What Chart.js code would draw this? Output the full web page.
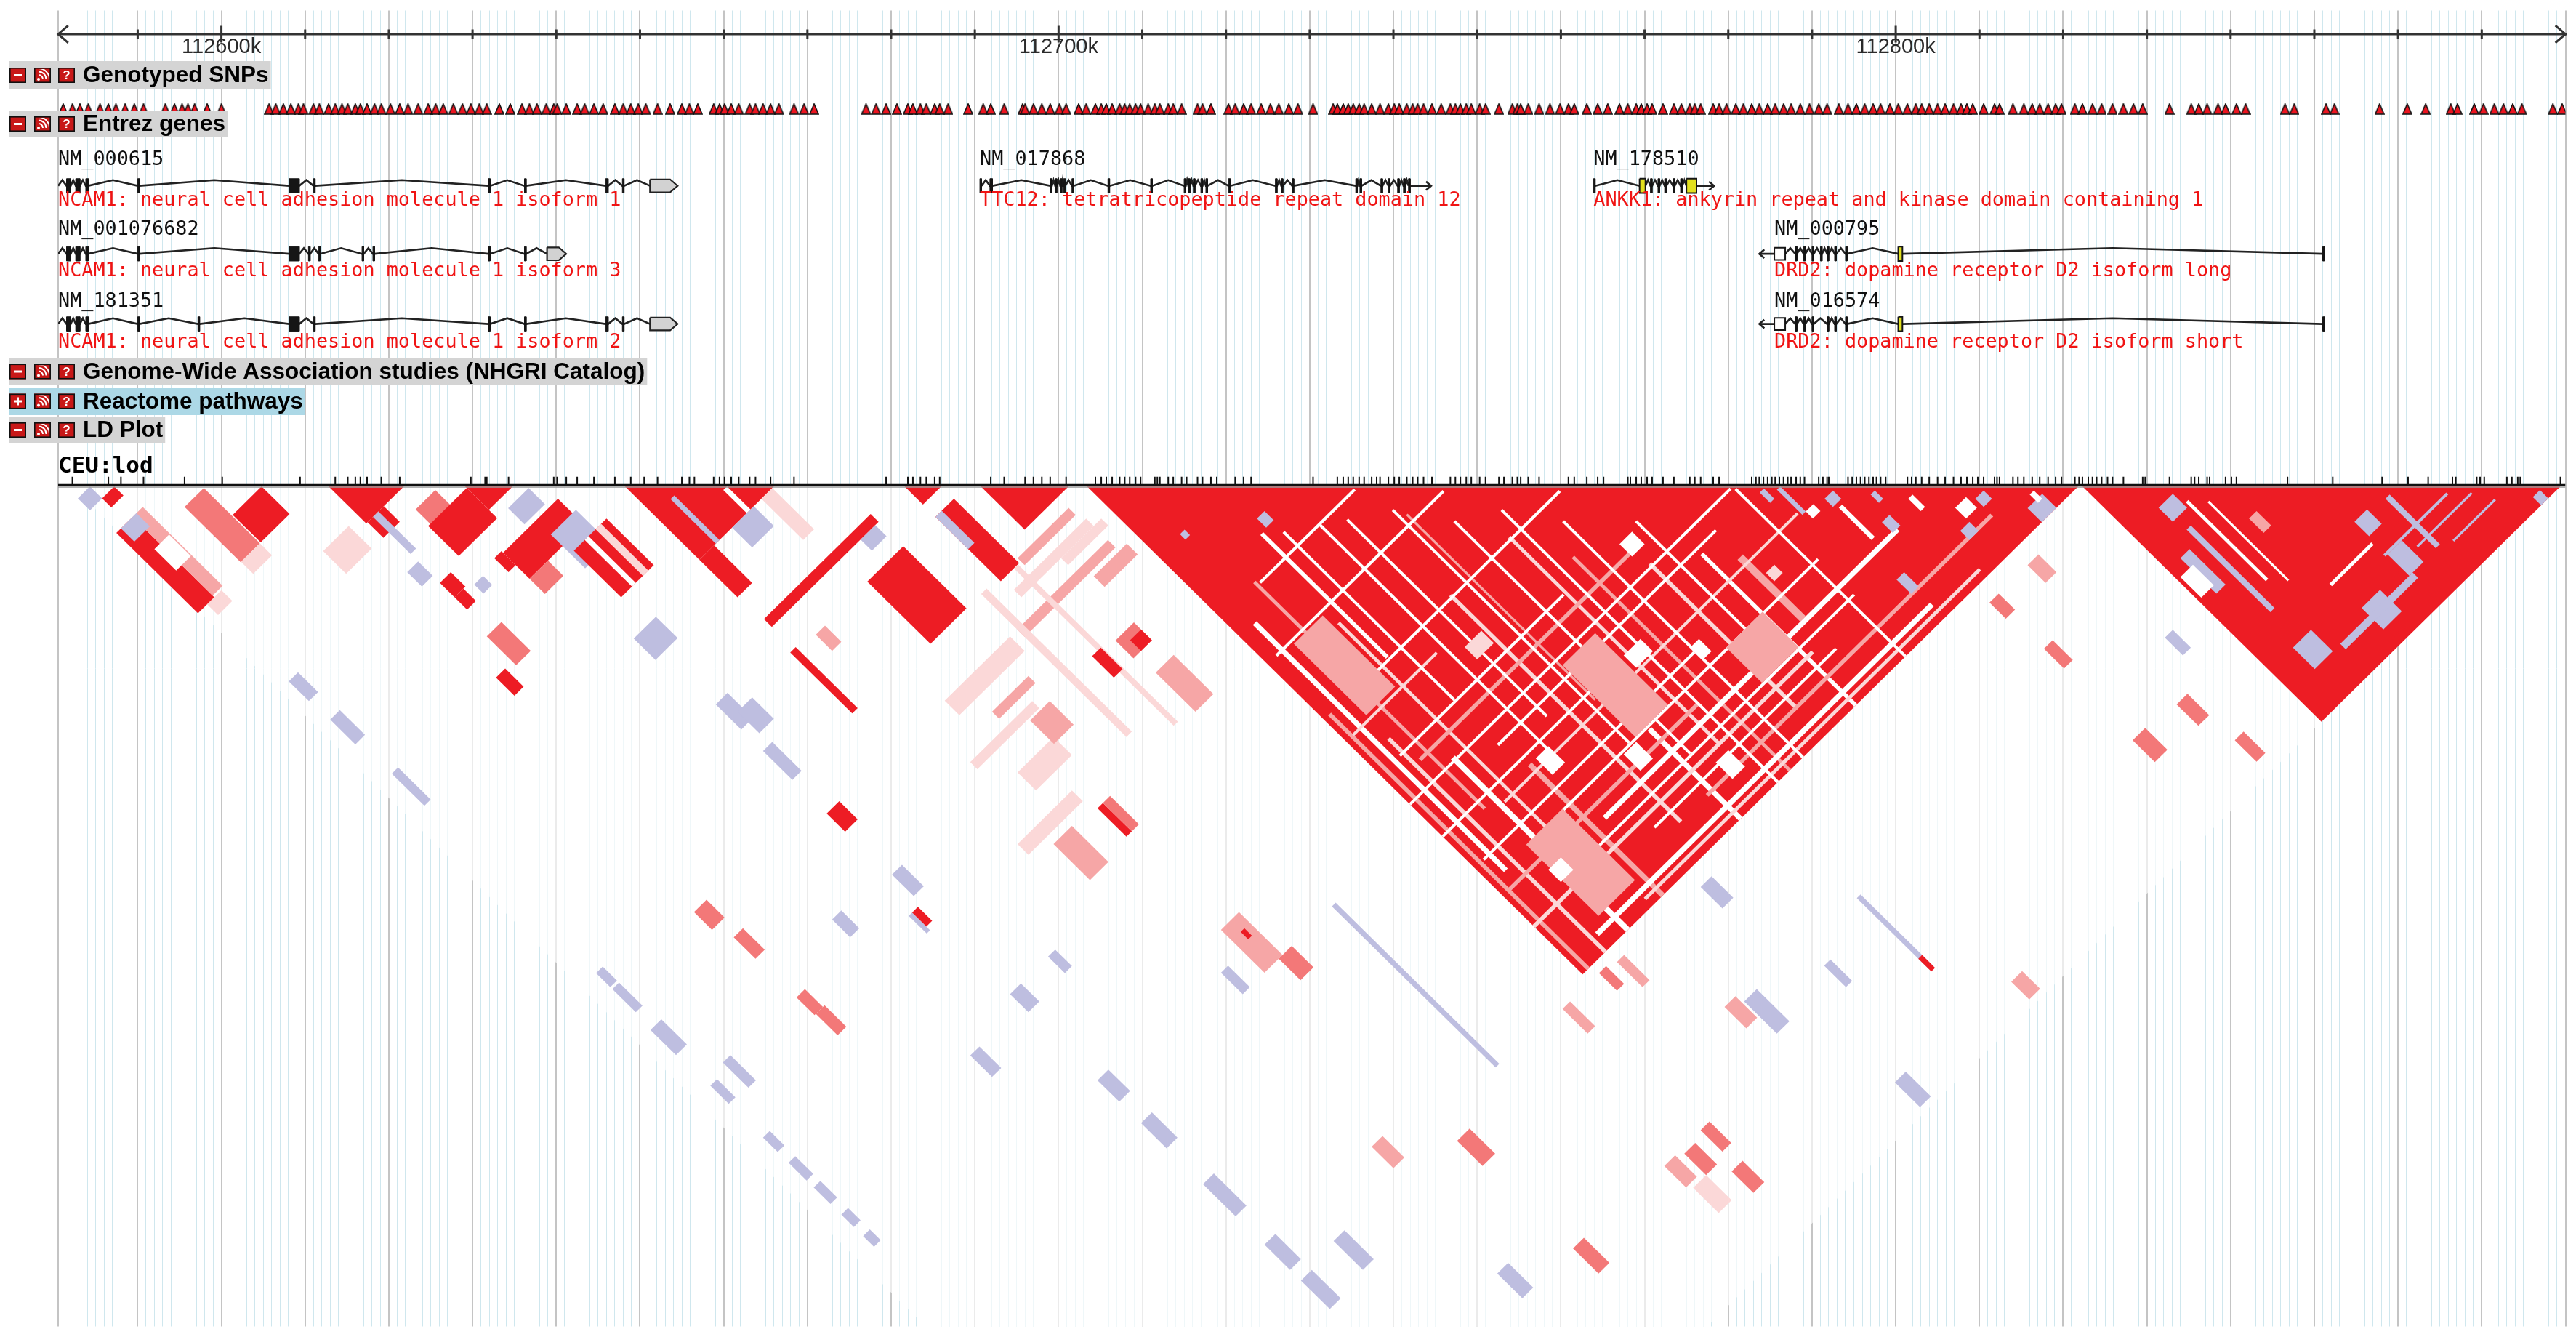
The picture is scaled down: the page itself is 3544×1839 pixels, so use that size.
<!DOCTYPE html>
<html><head><meta charset="utf-8">
<script src="https://cdn.jsdelivr.net/npm/chart.js@4/dist/chart.umd.min.js"></script>
<style>html,body{margin:0;padding:0;background:#fff;}canvas{display:block;}</style>
</head><body>
<canvas id="c" width="3544" height="1839" style="width:3544px;height:1839px"></canvas>
<script>
// ---------------- DATA ----------------
const viewStart = 112580.5;
const viewEnd = 112880.0;
const majorTickKb = [112600, 112700, 112800];
const minorTickKb = [112590,112610,112620,112630,112640,112650,112660,112670,112680,112690,112710,112720,112730,112740,112750,112760,112770,112780,112790,112810,112820,112830,112840,112850,112860,112870];

const genotypedSnps = [112581.1,112582.2,112583.1,112584.1,112585.5,112586.5,112587.4,112588.5,112589.6,112590.7,112593.3,112594.4,112595.3,112596.0,112596.8,112598.3,112600.0,112605.7,112606.5,112607.4,112608.3,112609.2,112609.8,112611.0,112611.7,112612.8,112613.6,112614.4,112615.1,112616.0,112616.6,112617.4,112618.3,112619.1,112620.2,112621.3,112622.3,112623.5,112624.7,112625.6,112626.5,112627.7,112628.8,112629.8,112630.8,112631.7,112633.2,112634.5,112635.9,112636.8,112637.7,112638.8,112639.7,112640.1,112641.2,112642.5,112643.4,112644.5,112645.6,112647.0,112648.0,112648.9,112649.8,112650.7,112652.1,112653.6,112655.0,112655.9,112656.9,112658.8,112659.5,112660.1,112660.9,112661.8,112663.1,112663.8,112664.7,112665.6,112666.6,112668.4,112669.6,112670.8,112677.0,112678.2,112679.4,112680.7,112682.0,112682.6,112683.5,112684.2,112685.2,112685.8,112686.8,112689.2,112691.0,112691.9,112693.5,112695.7,112696.0,112697.0,112698.0,112699.0,112700.1,112700.9,112702.4,112703.3,112704.4,112705.1,112705.7,112706.4,112707.3,112707.9,112708.5,112709.2,112709.8,112710.7,112711.5,112712.1,112713.1,112713.7,112714.7,112716.6,112717.2,112718.2,112720.3,112721.1,112722.1,112723.0,112724.2,112725.3,112726.3,112727.5,112728.6,112730.4,112732.8,112733.3,112734.0,112734.6,112735.2,112735.9,112736.5,112737.4,112738.4,112739.4,112740.1,112740.7,112741.6,112742.3,112742.9,112743.6,112744.6,112745.7,112746.8,112747.4,112748.0,112748.7,112749.3,112750.3,112751.0,112752.6,112754.2,112754.8,112755.2,112756.1,112757.4,112758.7,112759.9,112760.9,112761.6,112763.1,112764.4,112765.6,112767.0,112768.0,112769.0,112769.6,112770.3,112770.9,112772.2,112773.5,112774.4,112775.4,112776.0,112776.7,112778.2,112778.9,112779.8,112780.9,112781.8,112782.8,112783.7,112784.7,112785.6,112786.6,112787.5,112788.6,112789.7,112790.8,112791.8,112793.2,112794.3,112795.3,112796.3,112797.3,112798.2,112799.3,112800.3,112801.4,112802.4,112803.1,112804.0,112805.0,112805.9,112806.9,112807.8,112808.5,112809.2,112810.5,112811.8,112812.4,112814.0,112815.3,112816.3,112817.2,112818.2,112819.1,112819.8,112821.4,112822.3,112823.5,112824.6,112825.9,112827.2,112828.4,112829.5,112832.7,112835.3,112836.2,112837.2,112838.5,112839.4,112840.7,112841.8,112846.5,112847.6,112851.4,112852.4,112857.8,112861.1,112863.3,112866.3,112867.1,112869.1,112870.2,112871.5,112872.6,112873.7,112874.8,112878.5,112879.6];

const ldSnps = [112582.2,112586.5,112588.0,112590.7,112595.6,112600.1,112609.4,112613.6,112615.1,112616.0,112616.6,112617.4,112619.1,112621.3,112629.8,112631.5,112631.7,112634.3,112639.7,112640.1,112641.2,112642.5,112644.5,112647.0,112648.9,112650.5,112652.1,112655.0,112655.9,112656.5,112658.8,112659.5,112660.1,112660.9,112661.8,112663.1,112663.8,112665.6,112668.4,112679.4,112682.0,112682.6,112683.5,112684.2,112685.2,112685.8,112691.9,112693.5,112696.0,112697.0,112698.0,112699.0,112700.9,112704.4,112705.1,112705.7,112706.4,112707.3,112707.9,112708.5,112709.2,112709.8,112711.5,112711.8,112712.1,112713.1,112713.7,112714.7,112715.3,112716.6,112717.2,112718.2,112718.9,112721.1,112722.1,112723.0,112730.4,112733.3,112734.0,112734.6,112735.2,112735.9,112736.5,112737.4,112738.0,112738.4,112739.4,112740.1,112740.7,112741.6,112742.3,112742.9,112743.6,112744.6,112746.8,112747.4,112748.0,112748.7,112749.3,112750.3,112751.0,112752.6,112753.2,112754.2,112754.8,112755.2,112756.1,112757.4,112760.9,112761.6,112763.1,112764.4,112765.1,112768.0,112768.3,112769.0,112769.6,112770.3,112770.9,112772.2,112773.5,112775.4,112776.0,112776.7,112778.2,112778.9,112782.8,112783.3,112783.7,112784.2,112784.7,112785.2,112785.6,112786.1,112786.6,112787.1,112787.5,112788.1,112788.6,112789.1,112790.8,112791.3,112791.8,112792.0,112794.3,112794.8,112795.3,112795.8,112796.3,112796.8,112797.3,112797.7,112798.2,112798.8,112801.4,112801.9,112802.4,112803.1,112804.0,112805.0,112805.9,112806.9,112807.8,112808.5,112809.2,112809.8,112810.5,112811.8,112812.1,112812.4,112814.0,112814.6,112815.3,112816.3,112817.2,112818.2,112819.1,112819.8,112821.4,112821.9,112822.3,112823.0,112823.5,112824.0,112824.6,112825.3,112825.9,112827.2,112829.5,112829.8,112832.7,112835.3,112835.7,112836.2,112837.2,112837.5,112839.4,112840.1,112840.7,112846.8,112852.2,112858.1,112861.2,112863.6,112866.5,112866.9,112869.4,112869.8,112870.3,112873.0,112873.6,112874.3,112874.6,112879.4];

// LD blocks: all pairs inside [start, end] kb
const ldBlocks = [
 [112703.4,112821.8,'R'],[112822.3,112879.4,'R'],[112612.8,112621.8,'R'],[112629.1,112634.8,'R'],
 [112648.2,112666.0,'R'],[112690.7,112701.2,'R'],[112681.6,112686.0,'R']
];
// LD patches: pairs with first SNP in [a1,a2] and second SNP in [b1,b2] (kb)
const ldPatches = [
 [112581.4,112584.3,112584.3,112587.2,'B'],[112584.3,112587.2,112587.2,112589.4,'R'],
 [112581.8,112585.7,112593.1,112612.6,'R'],[112585.7,112588.1,112593.1,112612.2,'P2'],
 [112582.9,112586.6,112593.1,112596.3,'B'],[112584.4,112587.9,112599.6,112604.8,'W'],
 [112584.0,112587.4,112612.6,112615.2,'P3'],[112593.1,112597.7,112598.1,112611.5,'P1'],
 [112593.2,112597.7,112611.5,112614.4,'P3'],[112597.9,112604.8,112604.8,112611.5,'R'],
 [112604.3,112610.4,112620.0,112625.5,'P3'],[112613.1,112617.0,112621.8,112625.6,'R'],
 [112620.4,112625.1,112626.0,112630.7,'P1'],[112614.4,112615.7,112621.8,112630.8,'B'],
 [112619.9,112629.1,112629.5,112636.8,'R'],[112631.6,112636.5,112636.9,112640.8,'B'],
 [112625.6,112638.7,112641.7,112648.0,'R'],[112625.6,112630.0,112648.0,112651.7,'P1'],
 [112633.5,112639.5,112645.2,112653.4,'B'],[112634.3,112642.1,112649.9,112661.2,'R'],
 [112636.9,112637.8,112649.9,112661.2,'W'],[112639.5,112640.8,112649.9,112661.2,'P3'],
 [112652.1,112653.0,112655.2,112666.0,'B'],[112659.5,112660.4,112660.4,112666.0,'W'],
 [112648.2,112651.7,112666.0,112675.1,'R'],[112663.0,112665.6,112666.0,112676.0,'P3'],
 [112656.0,112661.2,112666.0,112670.8,'B'],[112611.8,112614.4,112632.6,112636.1,'B'],
 [112618.3,112620.4,112642.1,112644.3,'B'],[112623.9,112625.6,112641.3,112644.7,'R'],
 [112630.8,112636.1,112667.7,112672.9,'B'],[112648.7,112674.2,112680.9,112682.8,'R'],
 [112647.8,112649.1,112688.1,112702.9,'R'],[112669.9,112673.4,112682.8,112685.5,'B'],
 [112665.6,112674.2,112688.7,112703.8,'R'],[112681.6,112686.0,112689.0,112704.6,'R'],
 [112681.6,112683.1,112689.0,112696.8,'B'],[112584.4,112586.6,112631.7,112636.5,'B'],
 [112584.7,112587.0,112641.3,112647.3,'B'],[112585.5,112587.0,112655.2,112663.0,'B'],
 [112632.6,112635.4,112685.5,112691.6,'B'],[112634.3,112637.8,112689.0,112694.2,'B'],
 [112632.6,112634.8,112696.8,112703.8,'B'],[112632.6,112635.6,112712.0,112716.4,'R'],
 [112653.0,112655.2,112689.0,112692.9,'P2'],[112609.6,112611.8,112656.0,112660.4,'R'],
 [112614.4,112617.0,112637.8,112641.3,'R'],[112614.4,112616.5,112641.3,112644.3,'R'],
 [112613.5,112617.0,112649.9,112656.9,'P1'],
 [112585.7,112587.3,112703.8,112707.2,'B'],[112585.7,112587.3,112707.7,112713.3,'B'],
 [112585.3,112587.9,112717.2,112723.3,'B'],[112585.7,112587.3,112731.1,112735.5,'B'],
 [112585.7,112587.3,112743.7,112747.2,'B'],[112585.7,112587.3,112749.8,112754.1,'B'],
 [112585.7,112587.3,112755.8,112759.8,'B'],[112585.7,112587.3,112762.4,112765.4,'B'],
 [112585.7,112587.3,112767.6,112770.2,'B'],
 [112604.8,112607.8,112708.1,112712.4,'P1'],[112606.5,112608.7,112715.9,112721.1,'P1'],
 [112606.7,112608.7,112730.7,112735.0,'P1'],[112607.0,112609.1,112735.0,112740.2,'P1'],
 [112686.4,112698.6,112703.8,112705.5,'P2'],[112682.1,112699.4,112707.2,112709.0,'P3'],
 [112677.7,112699.4,112712.4,112714.2,'P2'],[112691.6,112701.2,112709.0,112710.7,'P3'],
 [112693.3,112701.2,112715.1,112717.7,'P2'],[112688.1,112692.5,112725.5,112729.8,'P1'],
 [112689.9,112692.5,112727.2,112729.8,'R'],[112660.4,112676.0,112712.4,112715.9,'P3'],
 [112664.7,112673.4,112719.4,112721.1,'P2'],[112656.0,112670.8,112722.9,112724.6,'P3'],
 [112677.7,112679.0,112703.8,112738.5,'P3'],[112684.7,112685.7,112704.6,112742.8,'P3'],
 [112683.4,112685.5,112724.6,112729.8,'R'],[112689.0,112693.3,112734.2,112743.7,'P2'],
 [112660.4,112669.0,112729.8,112734.2,'P3'],[112651.7,112664.7,112738.5,112741.1,'P3'],
 [112656.0,112660.4,112742.8,112751.5,'P2'],[112665.6,112666.9,112743.7,112750.6,'R'],
 [112666.9,112668.6,112743.7,112750.6,'P1'],[112668.2,112672.9,112725.0,112730.7,'P2'],
 [112633.0,112635.4,112727.2,112732.4,'B'],[112630.8,112632.2,112734.2,112737.6,'R'],
 [112630.0,112630.8,112734.2,112738.5,'B'],[112620.4,112622.6,112725.5,112729.8,'B'],
 [112590.0,112591.8,112729.8,112735.9,'B'],
 [112632.6,112635.2,112755.8,112760.2,'B'],[112632.6,112635.2,112776.7,112781.9,'B'],
 [112632.6,112635.2,112787.1,112793.2,'B'],[112632.6,112635.2,112801.9,112809.7,'B'],
 [112632.6,112635.2,112816.6,112822.7,'B'],[112632.6,112635.2,112825.3,112832.2,'B'],
 [112641.7,112643.4,112755.8,112759.8,'B'],[112641.3,112643.9,112824.4,112831.4,'B'],
 [112656.9,112659.5,112847.9,112853.9,'B'],[112681.7,112682.6,112783.6,112822.7,'B'],
 [112660.4,112662.1,112778.4,112783.6,'B'],[112665.6,112669.9,112773.2,112783.6,'P2'],
 [112667.7,112668.6,112775.8,112777.6,'R'],[112669.0,112672.1,112783.6,112788.8,'P1'],
 [112668.2,112671.2,112827.0,112833.1,'P1'],[112669.0,112671.6,112853.9,112860.0,'P1'],
 [112698.6,112700.7,112854.8,112860.0,'P1'],[112689.9,112692.5,112854.8,112860.0,'P2'],
 [112690.7,112693.8,112860.9,112867.0,'P3'],[112693.8,112696.4,112855.7,112860.9,'P1'],
 [112697.3,112699.9,112863.5,112868.7,'P1'],[112620.4,112622.6,112758.5,112763.7,'B'],
 [112657.3,112659.9,112817.5,112822.7,'P2'],
 // texture inside the large CEU block
 [112704.4,112705.1,112760.0,112821.8,'P2'],[112706.4,112707.3,112740.0,112800.0,'W'],
 [112708.5,112709.2,112770.0,112821.8,'P3'],[112711.5,112712.1,112735.0,112790.0,'P2'],
 [112713.7,112714.7,112780.0,112821.8,'W'],[112716.6,112717.2,112750.0,112815.0,'P3'],
 [112718.2,112718.9,112730.0,112760.0,'W'],[112722.1,112723.0,112790.0,112821.8,'P2'],
 [112733.3,112734.0,112760.0,112815.0,'P3'],[112738.0,112738.4,112745.0,112790.0,'P2'],
 [112740.7,112741.6,112800.0,112821.8,'W'],[112747.4,112748.0,112760.0,112810.0,'P3'],
 [112752.6,112753.2,112770.0,112821.8,'P2'],[112760.9,112761.6,112780.0,112815.0,'P3'],
 [112768.3,112769.0,112785.0,112821.8,'W'],[112772.2,112773.5,112790.0,112805.0,'P2'],
 [112705.0,112725.0,112765.1,112765.6,'P3'],[112710.0,112760.0,112776.0,112776.7,'P2'],
 [112703.4,112740.0,112788.1,112788.6,'W'],[112715.0,112785.0,112791.3,112791.8,'P3'],
 [112705.0,112750.0,112802.4,112803.1,'P2'],[112725.0,112795.0,112805.0,112805.9,'W'],
 [112703.4,112770.0,112809.8,112810.5,'P3'],[112740.0,112808.0,112814.6,112815.3,'P2'],
 [112710.0,112790.0,112818.2,112819.1,'W'],[112720.0,112800.0,112819.8,112820.4,'P3'],
 [112721.1,112721.6,112732.4,112773.2,'W'],[112726.3,112726.8,112735.9,112790.6,'W'],
 [112730.2,112730.7,112738.5,112786.2,'W'],[112736.8,112737.3,112742.8,112799.3,'W'],
 [112742.8,112743.3,112751.5,112807.9,'W'],[112749.8,112750.3,112755.8,112821.8,'W'],
 [112755.8,112756.3,112764.5,112821.8,'W'],[112764.5,112765.0,112773.2,112807.9,'W'],
 [112712.4,112735.0,112735.5,112736.0,'W'],[112705.5,112745.4,112746.3,112746.8,'W'],
 [112712.4,112759.3,112760.2,112760.7,'W'],[112708.1,112747.2,112773.2,112773.7,'W'],
 [112721.1,112773.2,112783.6,112784.1,'W'],[112705.5,112755.8,112795.8,112796.3,'W'],
 [112712.4,112781.9,112807.9,112808.4,'W'],[112721.1,112781.9,112799.3,112799.8,'W'],
 [112729.8,112773.2,112812.3,112812.8,'W'],
 [112703.4,112780.0,112780.3,112780.8,'W'],[112780.3,112780.8,112781.2,112821.8,'W'],
 [112709.0,112715.9,112747.2,112764.5,'P2'],[112738.5,112746.3,112781.9,112799.3,'P2'],
 [112712.4,112721.1,112799.3,112816.6,'P2'],[112760.2,112768.9,112799.3,112807.9,'P2'],
 [112724.0,112727.0,112790.0,112794.0,'W'],[112735.0,112738.0,112800.0,112804.0,'W'],
 [112745.0,112748.0,112812.0,112816.0,'W'],[112756.0,112758.0,112795.0,112798.0,'W'],
 [112712.0,112715.0,112805.0,112808.0,'W'],[112760.0,112763.0,112774.0,112777.0,'W'],
 [112774.0,112776.0,112795.0,112797.0,'P3'],[112729.0,112733.0,112768.0,112771.0,'P3'],
 [112747.0,112751.0,112788.0,112791.0,'W'],
 [112719.8,112721.6,112727.6,112729.8,'B'],[112708.7,112709.8,112720.3,112721.6,'B'],
 [112794.0,112795.8,112802.7,112805.3,'B'],[112788.8,112790.6,112811.4,112814.9,'B'],
 [112802.3,112804.5,112813.1,112815.3,'B'],[112813.1,112816.6,112818.4,112821.8,'B'],
 [112804.5,112807.1,112809.7,112812.3,'W'],[112785.4,112786.2,112786.2,112792.3,'B'],
 [112786.2,112788.0,112792.3,112794.0,'W'],[112790.6,112791.4,112795.8,112803.6,'W'],
 [112783.0,112784.0,112784.5,112787.0,'B'],[112796.0,112797.0,112798.0,112800.0,'B'],
 [112808.0,112810.0,112811.0,112813.0,'B'],[112800.0,112801.0,112803.0,112806.0,'W'],
 [112815.0,112816.0,112817.0,112819.0,'W'],[112790.0,112792.0,112793.0,112795.0,'B'],
 // between the large block and the right block
 [112806.2,112808.8,112825.3,112829.6,'P2'],[112797.1,112799.3,112825.3,112829.2,'P1'],
 [112798.0,112800.1,112837.4,112842.2,'P1'],[112797.5,112800.5,112859.1,112864.4,'P1'],
 [112807.1,112809.7,112860.0,112865.2,'P1'],[112809.7,112811.8,112871.3,112876.5,'P1'],
 [112813.8,112815.7,112850.5,112854.8,'B'],[112696.8,112698.6,112823.6,112829.6,'P2'],
 [112705.5,112707.2,112823.6,112827.9,'P1'],[112709.0,112710.7,112824.4,112830.5,'P2'],
 [112719.4,112722.4,112844.4,112852.2,'B'],[112745.4,112746.3,112845.3,112862.6,'B'],
 [112745.4,112746.3,112860.0,112863.1,'R'],[112733.3,112734.8,112849.6,112854.8,'B'],
 [112727.6,112730.2,112872.2,112878.2,'B'],[112753.7,112756.3,112873.9,112878.2,'P2'],
 [112716.4,112719.0,112842.7,112847.9,'P2'],[112728.1,112730.7,112825.3,112830.5,'B'],
 // right block details
 [112828.8,112832.2,112834.0,112837.4,'B'],[112825.3,112827.5,112842.7,112851.3,'B'],
 [112850.5,112853.5,112859.1,112862.6,'B'],[112850.5,112853.9,112867.0,112872.2,'B'],
 [112840.9,112845.3,112870.4,112875.6,'B'],[112827.9,112832.2,112867.0,112872.2,'B'],
 [112874.8,112876.5,112877.4,112879.4,'B'],[112832.7,112833.3,112836.6,112855.7,'W'],
 [112835.3,112835.7,112839.2,112858.3,'W'],[112838.3,112840.1,112846.1,112849.6,'P2'],
 [112834.0,112851.3,112872.2,112873.5,'B'],[112850.0,112865.0,112866.5,112867.0,'B'],
 [112855.0,112868.0,112869.4,112869.8,'B'],[112860.0,112870.0,112873.0,112873.4,'B'],
 [112840.0,112850.0,112863.6,112864.2,'W'],[112857.0,112858.0,112860.0,112872.0,'B'],
 [112823.0,112826.0,112845.0,112850.0,'W'],[112829.5,112830.5,112840.0,112860.0,'B']
];

// Genes (kb)
const ncam1Iso1Exons = [[112581.5,112582.0],[112582.6,112583.1],[112583.8,112584.1],[112590.0,112590.2],[112608.1,112609.3],[112611.0,112611.2],[112631.9,112632.1],[112636.2,112636.4],[112645.9,112646.2],[112647.9,112648.1]];
const ncam1Iso1Utr = [112651.2,112654.5];
const ncam1Iso3Exons = [[112581.5,112582.0],[112582.6,112583.1],[112583.8,112584.1],[112590.0,112590.2],[112608.1,112609.3],[112610.4,112610.6],[112611.6,112611.8],[112616.8,112617.0],[112618.1,112618.3],[112631.9,112632.1],[112636.2,112636.4]];
const ncam1Iso3Utr = [112638.9,112641.2];
const ncam1Iso2Exons = [[112581.5,112582.0],[112582.6,112583.1],[112583.8,112584.1],[112590.0,112590.2],[112597.2,112597.4],[112608.1,112609.3],[112611.0,112611.2],[112631.9,112632.1],[112636.2,112636.4],[112645.9,112646.2],[112647.9,112648.1]];
const ncam1Iso2Utr = [112651.2,112654.5];
const ttc12Exons = [[112690.6,112690.8],[112691.8,112692.1],[112699.0,112699.2],[112699.6,112699.8],[112700.2,112700.4],[112700.6,112700.8],[112701.6,112701.8],[112705.9,112706.1],[112711.0,112711.2],[112715.0,112715.2],[112715.5,112715.7],[112716.1,112716.3],[112717.0,112717.2],[112717.6,112717.8],[112720.3,112720.5],[112725.9,112726.1],[112726.6,112726.8],[112727.9,112728.1],[112735.5,112735.7],[112736.0,112736.2],[112738.5,112738.7],[112739.4,112739.6],[112740.5,112740.7],[112741.2,112741.4],[112741.8,112742.0]];
const ttc12ArrowTip = 112744.5;
const ankk1Exons = [[112763.9,112764.1],[112770.7,112770.9],[112771.6,112771.8],[112772.4,112772.6],[112773.4,112773.6],[112774.3,112774.5]];
const ankk1Coding = [[112769.4,112770.1],[112775.0,112776.2]];
const ankk1ArrowTip = 112778.3;
const drd2LongExons = [[112788.0,112788.2],[112789.0,112789.2],[112790.0,112790.2],[112791.0,112791.2],[112791.8,112792.0],[112792.7,112792.9],[112794.0,112794.2],[112851.0,112851.2]];
const drd2ShortExons = [[112788.0,112788.2],[112789.0,112789.2],[112790.0,112790.2],[112791.8,112792.0],[112792.7,112792.9],[112794.0,112794.2],[112851.0,112851.2]];
const drd2Coding = [[112800.3,112800.8]];
const drd2Utr = [112785.5,112786.8];
const drd2ArrowTip = 112783.7;

const geneNames = ['NM_000615','NM_017868','NM_178510','NM_001076682','NM_000795','NM_181351','NM_016574'];
const geneDescs = ['NCAM1: neural cell adhesion molecule 1 isoform 1','TTC12: tetratricopeptide repeat domain 12','ANKK1: ankyrin repeat and kinase domain containing 1','NCAM1: neural cell adhesion molecule 1 isoform 3','DRD2: dopamine receptor D2 isoform long','NCAM1: neural cell adhesion molecule 1 isoform 2','DRD2: dopamine receptor D2 isoform short'];
const trackTitles = ['Genotyped SNPs','Entrez genes','Genome-Wide Association studies (NHGRI Catalog)','Reactome pathways','LD Plot'];
const ldPopulationLabel = 'CEU:lod';

// ---------------- LAYOUT / STYLE ----------------
const W = 3544, H = 1839, PADL = 80, PADR = 14;
const L = {
  axisY: 33, snpY: 137.5, ldLineY: 663, ldTickY: 657, ldTop: 665, ldLabelY: 650,
  rows: [{name:227, gene:245, desc:283},{name:323, gene:340, desc:380},{name:422, gene:438, desc:478}],
  headers: [
    {top:84, bottom:123, bg:'#d4d4d4', icon:'minus'},
    {top:152, bottom:189, bg:'#d4d4d4', icon:'minus'},
    {top:492, bottom:530, bg:'#d4d4d4', icon:'minus'},
    {top:533, bottom:571, bg:'#acd8e6', icon:'plus'},
    {top:573, bottom:610, bg:'#d4d4d4', icon:'minus'}
  ],
  exonHalf: 10, hat: 8
};
const ldColors = {R:'#ed1c24', P1:'#f37878', P2:'#f6a6a6', P3:'#fbd8d8', B:'#bebee0', W:'#ffffff'};
const geneStyle = [
  {row:0, exons:ncam1Iso1Exons, coding:[], utr:ncam1Iso1Utr, utrKind:'pentagon', from:viewStart, tip:null, labelAt:viewStart},
  {row:0, exons:ttc12Exons, coding:[], utr:null, from:null, tip:ttc12ArrowTip, labelAt:ttc12Exons[0][0]},
  {row:0, exons:ankk1Exons, coding:ankk1Coding, utr:null, from:null, tip:ankk1ArrowTip, labelAt:ankk1Exons[0][0]},
  {row:1, exons:ncam1Iso3Exons, coding:[], utr:ncam1Iso3Utr, utrKind:'pentagon', from:viewStart, tip:null, labelAt:viewStart},
  {row:1, exons:drd2LongExons, coding:drd2Coding, utr:drd2Utr, utrKind:'open', from:null, tip:drd2ArrowTip, labelAt:drd2Utr[0]},
  {row:2, exons:ncam1Iso2Exons, coding:[], utr:ncam1Iso2Utr, utrKind:'pentagon', from:viewStart, tip:null, labelAt:viewStart},
  {row:2, exons:drd2ShortExons, coding:drd2Coding, utr:drd2Utr, utrKind:'open', from:null, tip:drd2ArrowTip, labelAt:drd2Utr[0]}
];

const pxPerKb = (W - PADL - PADR) / (viewEnd - viewStart);

// ---------------- DATASETS ----------------
const ds = []; // bottom -> top
function poly(points, yAxisID, fill, stroke, bw) {
  ds.push({type:'line', data:points, xAxisID:'x', yAxisID:yAxisID, backgroundColor:fill || 'transparent',
    borderColor: stroke || fill, borderWidth: bw || 0, fill: fill ? 'shape' : false, pointRadius:0, tension:0});
}
function pline(points, color, bw, clip) {
  const d = {type:'line', data:points, xAxisID:'x', yAxisID:'yT', borderColor:color, borderWidth:bw, fill:false, pointRadius:0, tension:0};
  if (clip === false) d.clip = false;
  ds.push(d);
}
const pair = (a, b) => ({x:(a + b) / 2, y:(b - a) / 2});

// LD backdrop
const ldFirst = ldSnps[0], ldLast = ldSnps[ldSnps.length - 1];
poly([pair(ldFirst, ldFirst), pair(ldLast, ldLast), pair(ldFirst, ldLast), pair(ldFirst, ldFirst)], 'yLD', 'rgba(255,255,255,0.66)');
ldBlocks.forEach(([s, e, c]) => poly([pair(s, s), pair(e, e), pair(s, e), pair(s, s)], 'yLD', ldColors[c]));
ldPatches.forEach(([a1, a2, b1, b2, c]) => poly([pair(a1, b1), pair(a2, b1), pair(a2, b2), pair(a1, b2), pair(a1, b1)], 'yLD', ldColors[c]));

// LD ruler line and SNP ticks
pline([{x:viewStart, y:L.ldLineY}, {x:viewEnd, y:L.ldLineY}], '#111', 2.5);
pline([{x:viewStart, y:L.ldLineY + 3}, {x:viewEnd, y:L.ldLineY + 3}], '#9a9a9a', 1.5);
ds.push({type:'scatter', data:ldSnps.map(v => ({x:v, y:L.ldTickY})), xAxisID:'x', yAxisID:'yT',
  pointStyle:'line', pointRotation:90, pointRadius:5.5, pointBorderWidth:2, pointBorderColor:'#111', pointBackgroundColor:'#111'});

// Genotyped SNP triangles
const triImg = document.createElement('canvas');
triImg.width = 14; triImg.height = 16;
(function(){ const t = triImg.getContext('2d'); t.beginPath(); t.moveTo(7, 1); t.lineTo(13, 15); t.lineTo(1, 15); t.closePath();
  t.fillStyle = '#ec1520'; t.fill(); t.lineWidth = 1.6; t.strokeStyle = '#111'; t.stroke(); })();
ds.push({type:'scatter', data:genotypedSnps.map(v => ({x:v, y:L.snpY})), xAxisID:'x', yAxisID:'yT',
  pointStyle:triImg, pointRadius:7});

// Top axis arrows and tick crosses
pline([{x:viewStart + 1.2, y:L.axisY - 12}, {x:viewStart, y:L.axisY}, {x:viewStart + 1.2, y:L.axisY + 12}], '#333', 3, false);
pline([{x:viewEnd - 1.2, y:L.axisY - 12}, {x:viewEnd, y:L.axisY}, {x:viewEnd - 1.2, y:L.axisY + 12}], '#333', 3, false);
ds.push({type:'scatter', data:majorTickKb.map(v => ({x:v, y:L.axisY})), xAxisID:'x', yAxisID:'yT',
  pointStyle:'line', pointRotation:90, pointRadius:11.5, pointBorderWidth:3, pointBorderColor:'#333'});
ds.push({type:'scatter', data:minorTickKb.map(v => ({x:v, y:L.axisY})), xAxisID:'x', yAxisID:'yT',
  pointStyle:'line', pointRotation:90, pointRadius:6.5, pointBorderWidth:3, pointBorderColor:'#333'});

// Genes
geneStyle.forEach(g => {
  const yc = L.rows[g.row].gene;
  const feats = [];
  g.exons.forEach(e => feats.push({s:e[0], e:e[1], k:'exon'}));
  g.coding.forEach(e => feats.push({s:e[0], e:e[1], k:'coding'}));
  if (g.utr) feats.push({s:g.utr[0], e:g.utr[1], k:g.utrKind});
  feats.sort((p, q) => p.s - q.s);
  const pts = [];
  let cursor = g.from;
  feats.forEach(f => {
    if (cursor !== null && f.s > cursor) {
      pts.push({x:cursor, y:yc}, {x:(cursor + f.s) / 2, y:yc - L.hat}, {x:f.s, y:yc});
    }
    cursor = cursor === null ? f.e : Math.max(cursor, f.e);
  });
  pline(pts, '#222', 2.6);
  if (g.tip !== null) {
    const first = feats[0].s, last = cursor;
    if (g.tip > last) {
      pline([{x:last, y:yc}, {x:g.tip, y:yc}], '#222', 2.6);
      pline([{x:g.tip - 0.6, y:yc - 6}, {x:g.tip, y:yc}, {x:g.tip - 0.6, y:yc + 6}], '#222', 2.6);
    } else {
      pline([{x:first, y:yc}, {x:g.tip, y:yc}], '#222', 2.6);
      pline([{x:g.tip + 0.6, y:yc - 6}, {x:g.tip, y:yc}, {x:g.tip + 0.6, y:yc + 6}], '#222', 2.6);
    }
  }
  feats.forEach(f => {
    if (f.k === 'pentagon') {
      const h = 9;
      poly([{x:f.s, y:yc - h}, {x:f.e - 0.9, y:yc - h}, {x:f.e, y:yc}, {x:f.e - 0.9, y:yc + h}, {x:f.s, y:yc + h}, {x:f.s, y:yc - h}], 'yT', '#d2d2d2', '#222', 2.2);
    } else {
      const h = f.k === 'open' ? 8.5 : L.exonHalf;
      const fill = f.k === 'open' ? '#ffffff' : (f.k === 'coding' ? '#e2e01e' : '#151515');
      poly([{x:f.s, y:yc - h}, {x:f.e, y:yc - h}, {x:f.e, y:yc + h}, {x:f.s, y:yc + h}, {x:f.s, y:yc - h}], 'yT', fill, '#151515', f.k === 'exon' ? 1 : 2);
    }
  });
});

// ---------------- DECOR PLUGIN ----------------
function drawIcon(ctx, x, yc, kind) {
  const w = 23, h = 21, y0 = yc - h / 2;
  ctx.fillStyle = '#c81818'; ctx.fillRect(x, y0, w, h);
  ctx.fillStyle = '#fff';
  if (kind === 'minus' || kind === 'plus') {
    ctx.fillRect(x + 6, yc - 1.5, 11, 3);
    if (kind === 'plus') ctx.fillRect(x + 10, yc - 5.5, 3, 11);
  } else if (kind === 'rss') {
    ctx.save(); ctx.beginPath(); ctx.rect(x + 2, y0 + 2, w - 4, h - 4); ctx.clip();
    ctx.strokeStyle = '#fff'; ctx.lineWidth = 2;
    const cx = x + 6, cy = y0 + h - 5;
    [6, 10.5, 15].forEach(r => { ctx.beginPath(); ctx.arc(cx, cy, r, -Math.PI / 2, 0); ctx.stroke(); });
    ctx.beginPath(); ctx.arc(cx, cy, 2, 0, Math.PI * 2); ctx.fill();
    ctx.restore();
  } else if (kind === 'help') {
    ctx.font = 'bold 17px "Liberation Sans"'; ctx.textAlign = 'center'; ctx.textBaseline = 'middle';
    ctx.fillText('?', x + w / 2, yc + 1);
  }
  ctx.strokeStyle = '#111'; ctx.lineWidth = 1.6; ctx.strokeRect(x + 0.8, y0 + 0.8, w - 1.6, h - 1.6);
}
const decorPlugin = {
  id: 'decor',
  afterDatasetsDraw(chart) {
    const ctx = chart.ctx, xs = chart.scales.x;
    ctx.save();
    trackTitles.forEach((t, i) => {
      const hd = L.headers[i];
      ctx.font = 'bold 31.5px "Liberation Sans"';
      const tw = ctx.measureText(t).width;
      ctx.fillStyle = hd.bg; ctx.fillRect(13, hd.top, 114 + tw + 3 - 13, hd.bottom - hd.top);
      const yc = (hd.top + hd.bottom) / 2;
      drawIcon(ctx, 13, yc, hd.icon); drawIcon(ctx, 47, yc, 'rss'); drawIcon(ctx, 80, yc, 'help');
      ctx.font = 'bold 31.5px "Liberation Sans"';
      ctx.fillStyle = '#000'; ctx.textAlign = 'left'; ctx.textBaseline = 'middle';
      ctx.fillText(t, 114, yc + 1);
    });
    ctx.textAlign = 'left'; ctx.textBaseline = 'alphabetic';
    geneStyle.forEach((g, i) => {
      const r = L.rows[g.row], x = xs.getPixelForValue(g.labelAt);
      ctx.font = '26.8px "DejaVu Sans Mono"';
      ctx.fillStyle = '#111'; ctx.fillText(geneNames[i], x, r.name);
      ctx.fillStyle = '#f01414'; ctx.fillText(geneDescs[i], x, r.desc);
    });
    ctx.font = 'bold 31px "DejaVu Sans Mono"'; ctx.fillStyle = '#000';
    ctx.fillText(ldPopulationLabel, xs.getPixelForValue(viewStart), L.ldLabelY);
    ctx.restore();
  }
};

// ---------------- CHART ----------------
Chart.defaults.font.family = "'Liberation Sans', Arial, sans-serif";
const isMajorGrid = v => (v % 1 !== 0) || (v % 10 === 0);
new Chart(document.getElementById('c'), {
  type: 'scatter',
  data: { datasets: ds.slice().reverse() },
  options: {
    responsive: false, animation: false, devicePixelRatio: 1, events: [],
    layout: { padding: { left: PADL, right: PADR, top: 0, bottom: 0 } },
    plugins: { legend: { display: false }, tooltip: { enabled: false } },
    scales: {
      x: {
        type: 'linear', min: viewStart, max: viewEnd, position: { yT: L.axisY },
        ticks: { stepSize: 1, autoSkip: false, maxRotation: 0, minRotation: 0, padding: 1, color: '#2a2a2a',
          font: { size: 29, family: "'Liberation Sans', Arial, sans-serif" },
          callback: v => (v % 100 === 0 ? v + 'k' : '') },
        grid: { drawTicks: false, color: c => (c.tick && isMajorGrid(c.tick.value) ? '#c4c4c4' : '#cfe7ee'),
          lineWidth: c => (c.tick && isMajorGrid(c.tick.value) ? 2 : 1) },
        border: { display: true, color: '#333', width: 3.5 }
      },
      yT: { type: 'linear', min: 0, max: H, reverse: true, display: false },
      yLD: { type: 'linear', min: -L.ldTop / pxPerKb, max: (H - L.ldTop) / pxPerKb, reverse: true, display: false }
    }
  },
  plugins: [decorPlugin]
});
</script>
</body></html>
